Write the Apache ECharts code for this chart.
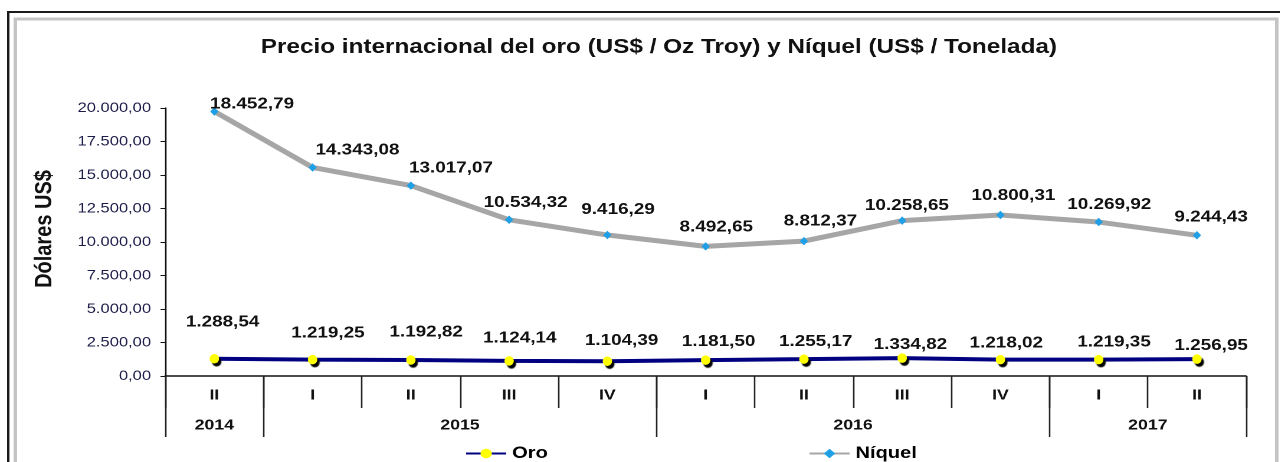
<!DOCTYPE html>
<html>
<head>
<meta charset="utf-8">
<script src="https://cdn.jsdelivr.net/npm/echarts/dist/echarts.min.js"></script>
<style>
  html, body { margin: 0; padding: 0; background: #fff; overflow: hidden; }
  /* el original está estirado en horizontal (~1.18) */
  #chart { width: 1085px; height: 462px; transform: scaleX(1.18); transform-origin: 0 0; }
</style>
</head>
<body>
<div id="chart"></div>
<script>
// datos por trimestre
var quarters = ['II', 'I', 'II', 'III', 'IV', 'I', 'II', 'III', 'IV', 'I', 'II'];
var years = ['2014', '2015', '2016', '2017'];
var yearSpans = [1, 4, 4, 2];   // trimestres por año
var oro = [1288.54, 1219.25, 1192.82, 1124.14, 1104.39, 1181.50, 1255.17, 1334.82, 1218.02, 1219.35, 1256.95];
var niquel = [18452.79, 14343.08, 13017.07, 10534.32, 9416.29, 8492.65, 8812.37, 10258.65, 10800.31, 10269.92, 9244.43];

// desplazamiento de las etiquetas (px) como en el original
var oroLabelDx = [7, 13, 13, 9, 12, 11, 10, 7, 5, 13, 12];
var oroLabelDy = [-19, -9, -10, -5, -3, -1, 0, 4, 1, 0, 4];
var niqLabelDx = [32, 38, 34, 14, 9, 9, 14, 4, 11, 9, 12];
var niqLabelDy = [10, 0, 0, 0, -8, -2, -3, 2, -2, 0, -1];

var FONT = '"Liberation Sans", Arial, sans-serif';

// formato 12.345,67
function fmt(v) {
  var p = v.toFixed(2).split('.');
  return p[0].replace(/\B(?=(\d{3})+(?!\d))/g, '.') + ',' + p[1];
}

// eje de años en medios trimestres: límites y centros
var halfSlots = [], yearAt = {}, yearBounds = [0];
var pos = 0;
years.forEach(function (y, i) {
  yearAt[pos + yearSpans[i]] = y;
  pos += yearSpans[i] * 2;
  yearBounds.push(pos);
});
for (var k = 0; k <= quarters.length * 2; k++) halfSlots.push('h' + k);

var chart = echarts.init(document.getElementById('chart'), null, { devicePixelRatio: 2 });

var option = {
  animation: false,
  textStyle: { fontFamily: FONT },
  title: {
    text: 'Precio internacional del oro (US$ / Oz Troy) y Níquel (US$ / Tonelada)',
    left: 221,
    top: 37,
    padding: 0,
    textStyle: { fontFamily: FONT, fontSize: 20.6, fontWeight: 'bold', color: '#111' }
  },
  legend: [
    {
      data: ['Oro'], left: 389, top: 440, itemWidth: 34, itemHeight: 12, itemGap: 3,
      selectedMode: false,
      textStyle: { fontFamily: FONT, fontSize: 17, fontWeight: 'bold', color: '#000' }
    },
    {
      data: ['Níquel'], left: 680, top: 440, itemWidth: 34, itemHeight: 12, itemGap: 3,
      selectedMode: false,
      textStyle: { fontFamily: FONT, fontSize: 17, fontWeight: 'bold', color: '#000' }
    }
  ],
  grid: { left: 140, right: 29, top: 108, bottom: 86 },
  xAxis: [
    {
      type: 'category',
      data: quarters,
      boundaryGap: true,
      axisLine: { lineStyle: { color: '#111', width: 1.5 } },
      axisTick: { show: true, interval: 0, length: 32, lineStyle: { color: '#222', width: 1.3 } },
      axisLabel: { interval: 0, margin: 12, fontFamily: FONT, fontSize: 15, fontWeight: 'bold', color: '#111' }
    },
    {
      type: 'category',
      position: 'bottom',
      data: halfSlots,
      boundaryGap: false,
      axisLine: { show: false },
      axisTick: {
        show: true, length: 61, lineStyle: { color: '#222', width: 1.3 },
        interval: function (idx) { return yearBounds.indexOf(idx) >= 0; }
      },
      axisLabel: {
        interval: 0, margin: 42, fontFamily: FONT, fontSize: 15, fontWeight: 'bold', color: '#111',
        formatter: function (v, idx) { return yearAt[idx] || ''; }
      }
    }
  ],
  yAxis: {
    type: 'value',
    min: 0, max: 20000, interval: 2500,
    name: 'Dólares US$',
    nameLocation: 'middle',
    nameRotate: 90,
    nameGap: 92,
    nameTextStyle: { fontFamily: FONT, fontSize: 20, fontWeight: 'bold', color: '#111', padding: [0, 0, 0, 26] },
    axisLine: { show: true, lineStyle: { color: '#111', width: 1.3 } },
    axisTick: { show: true, length: 4, lineStyle: { color: '#111' } },
    splitLine: { show: false },
    axisLabel: { margin: 12, fontFamily: FONT, fontSize: 14, color: '#1c1c48', formatter: fmt }
  },
  series: [
    {
      name: 'Oro',
      type: 'line',
      stack: 'total',
      data: oro,
      symbol: 'circle',
      symbolSize: [8, 9.5],
      lineStyle: { color: '#000080', width: 4 },
      itemStyle: { color: '#ffff00', shadowColor: '#000', shadowBlur: 1, shadowOffsetX: 2, shadowOffsetY: 3 },
      label: {
        show: true, position: 'top',
        fontFamily: FONT, fontSize: 16, fontWeight: 'bold', color: '#111',
        formatter: function (p) { return fmt(p.value); }
      },
      labelLayout: function (p) {
        return { dx: oroLabelDx[p.dataIndex], dy: oroLabelDy[p.dataIndex] };
      },
      emphasis: { disabled: true },
      z: 3
    },
    {
      name: 'Níquel',
      type: 'line',
      stack: 'total',
      data: niquel,
      symbol: 'diamond',
      symbolSize: [7, 8.5],
      lineStyle: { color: '#a6a6a6', width: 5 },
      itemStyle: { color: '#1e9fe6' },
      label: {
        show: true, position: 'top',
        fontFamily: FONT, fontSize: 16, fontWeight: 'bold', color: '#111',
        formatter: function (p) { return fmt(p.value); }
      },
      labelLayout: function (p) {
        return { dx: niqLabelDx[p.dataIndex], dy: niqLabelDy[p.dataIndex] };
      },
      emphasis: { disabled: true },
      z: 2
    }
  ],
  graphic: [
    { type: 'rect', silent: true, shape: { x: 7, y: 12, width: 1100, height: 480 },
      style: { fill: 'none', stroke: '#1a1a1a', lineWidth: 2 } },
    { type: 'rect', silent: true, shape: { x: 13, y: 19, width: 1069, height: 470 },
      style: { fill: 'none', stroke: '#c4c4c4', lineWidth: 3 } }
  ]
};

chart.setOption(option);
</script>
</body>
</html>
